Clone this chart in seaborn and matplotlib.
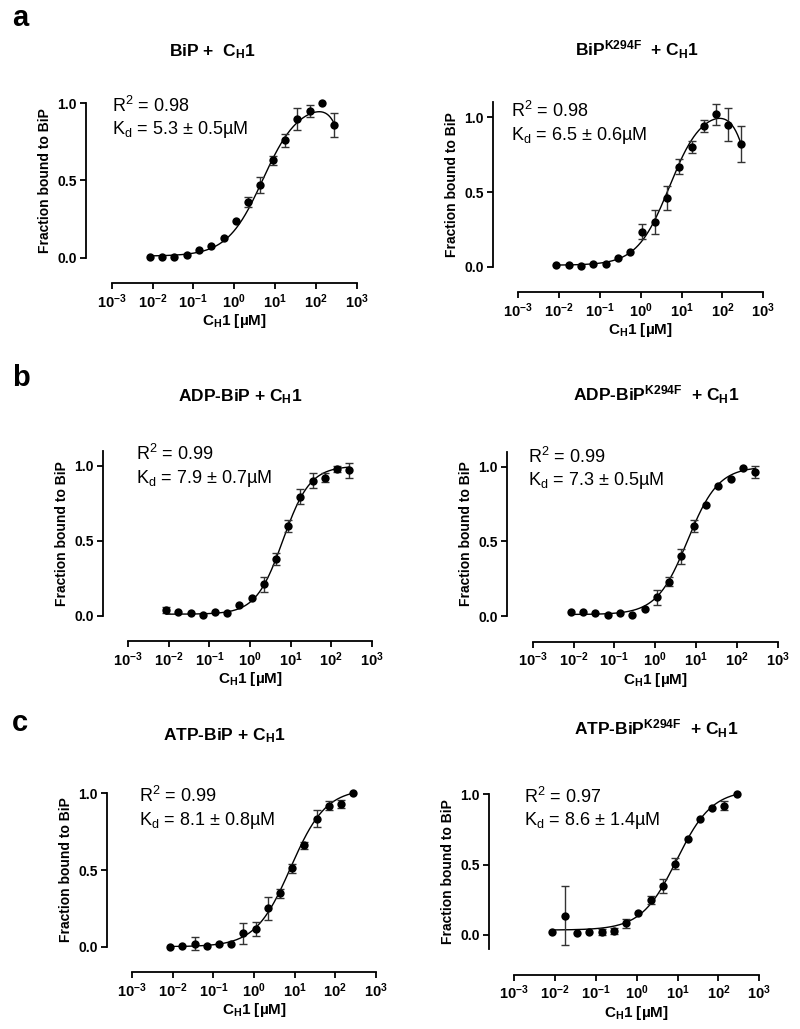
import numpy as np
import matplotlib
matplotlib.use("Agg")
import matplotlib.pyplot as plt
import matplotlib.transforms as mtransforms
import seaborn as sns

# Concentrations of CH1 (uM), 2-fold dilution series
conc = [0.00854, 0.0171, 0.0342, 0.0684, 0.137, 0.273, 0.547, 1.09,
        2.19, 4.38, 8.75, 17.5, 35.0, 70.0, 140.0, 280.0]

# Fraction bound (mean) and error per panel
a1_y = [0.006, 0.002, 0.006, 0.02, 0.048, 0.078, 0.13, 0.24, 0.36, 0.47, 0.63, 0.76, 0.90, 0.95, 1.00, 0.86]
a1_err = [0, 0, 0, 0, 0, 0, 0, 0, 0.03, 0.05, 0.03, 0.04, 0.07, 0.04, 0, 0.08]
a2_y = [0.01, 0.01, 0.005, 0.016, 0.02, 0.056, 0.10, 0.234, 0.30, 0.458, 0.67, 0.80, 0.94, 1.02, 0.95, 0.82]
a2_err = [0, 0, 0, 0, 0, 0, 0, 0.05, 0.08, 0.08, 0.05, 0.04, 0.04, 0.07, 0.11, 0.12]
b1_y = [0.038, 0.027, 0.016, 0.004, 0.024, 0.016, 0.07, 0.116, 0.21, 0.38, 0.60, 0.795, 0.90, 0.92, 0.98, 0.97]
b1_err = [0.02, 0, 0, 0, 0, 0, 0, 0, 0.05, 0.04, 0.04, 0.05, 0.05, 0.03, 0.02, 0.05]
b2_y = [0.029, 0.025, 0.018, 0.009, 0.02, 0.004, 0.045, 0.125, 0.23, 0.40, 0.60, 0.74, 0.87, 0.915, 0.99, 0.965]
b2_err = [0, 0, 0, 0, 0, 0, 0, 0.05, 0.03, 0.05, 0.04, 0, 0, 0, 0, 0.04]
c1_y = [0.0, 0.002, 0.02, 0.006, 0.017, 0.02, 0.087, 0.115, 0.25, 0.348, 0.51, 0.66, 0.833, 0.92, 0.93, 1.0]
c1_err = [0, 0, 0.04, 0, 0, 0, 0.07, 0.045, 0.075, 0.03, 0.03, 0.02, 0.055, 0.03, 0.025, 0]
c2_y = [0.02, 0.137, 0.012, 0.019, 0.021, 0.03, 0.083, 0.154, 0.25, 0.345, 0.506, 0.683, 0.82, 0.90, 0.917, 1.0]
c2_err = [0, 0.21, 0, 0, 0.02, 0.02, 0.03, 0, 0.03, 0.05, 0.04, 0, 0, 0, 0.03, 0]

# Fit parameters: bottom, top, EC50, hill, hook K, hook slope
a1_fit = [0.01, 1.0, 5.0, 1.0, 633, 2.5]
a2_fit = [0.01, 1.06, 5.0, 1.1, 532, 2.07]
b1_fit = [0.01, 1.0, 6.5, 1.3, None, None]
b2_fit = [0.01, 1.0, 6.2, 1.15, None, None]
c1_fit = [0.0, 1.03, 8.0, 1.0, None, None]
c2_fit = [0.035, 1.03, 9.5, 1.0, None, None]

titles = [r"BiP +  C$_\mathbf{H}$1", r"BiP$^\mathbf{K294F}$  + C$_\mathbf{H}$1",
          r"ADP-BiP + C$_\mathbf{H}$1", r"ADP-BiP$^\mathbf{K294F}$  + C$_\mathbf{H}$1",
          r"ATP-BiP + C$_\mathbf{H}$1", r"ATP-BiP$^\mathbf{K294F}$  + C$_\mathbf{H}$1"]
r2_labels = ["0.98", "0.98", "0.99", "0.99", "0.99", "0.97"]
kd_labels = ["5.3 ± 0.5", "6.5 ± 0.6", "7.9 ± 0.7", "7.3 ± 0.5", "8.1 ± 0.8", "8.6 ± 1.4"]
xtick_vals = [1e-3, 1e-2, 1e-1, 1e0, 1e1, 1e2, 1e3]
xtick_labels = [r"$\mathbf{10^{-3}}$", r"$\mathbf{10^{-2}}$", r"$\mathbf{10^{-1}}$", r"$\mathbf{10^{0}}$",
                r"$\mathbf{10^{1}}$", r"$\mathbf{10^{2}}$", r"$\mathbf{10^{3}}$"]
ytick_vals = [0.0, 0.5, 1.0]
ytick_labels = ["0.0", "0.5", "1.0"]

sns.set_theme(style="ticks")
plt.rcParams['font.family'] = ['Liberation Sans', 'DejaVu Sans']
plt.rcParams['mathtext.fontset'] = 'custom'
plt.rcParams['mathtext.rm'] = 'Liberation Sans'
plt.rcParams['mathtext.bf'] = 'Liberation Sans:bold'
plt.rcParams['mathtext.it'] = 'Liberation Sans:italic'
plt.rcParams['text.color'] = 'black'
plt.rcParams['axes.labelcolor'] = 'black'
plt.rcParams['xtick.color'] = 'black'
plt.rcParams['ytick.color'] = 'black'

W, H = 800, 1029
fig = plt.figure(figsize=(W / 100, H / 100), dpi=100)
fig.patch.set_facecolor('white')


def fit_curve(x, p):
    bottom, top, ec50, hill, hk, hh = p
    y = bottom + (top - bottom) * x ** hill / (ec50 ** hill + x ** hill)
    if hk is not None:
        y = y / (1 + (x / hk) ** hh)
    return y


# pixel layout: x0, x1 (data area), y of ylim top, y of ylim bottom, ylim
panels = [
    (111.7, 356.7, 103.3, 257.7, (0.0, 1.0), a1_y, a1_err, a1_fit, (0.0, 0.946, 0.80)),
    (518.3, 763.3, 102.4, 266.7, (0.0, 1.1), a2_y, a2_err, a2_fit, (-0.03, 1.004, 0.848)),
    (128.3, 371.7, 451.0, 615.7, (0.0, 1.1), b1_y, b1_err, b1_fit, (0.031, 1.04, 0.884)),
    (532.7, 777.7, 451.7, 616.0, (0.0, 1.1), b2_y, b2_err, b2_fit, (-0.018, 1.027, 0.877)),
    (132.3, 375.7, 793.3, 946.7, (0.0, 1.0), c1_y, c1_err, c1_fit, (0.029, 0.945, 0.793)),
    (514.3, 759.3, 794.0, 949.1, (-0.1, 1.0), c2_y, c2_err, c2_fit, (0.04, 0.938, 0.78)),
]
title_pos = [(212, 52), (637, 50), (240, 397), (656, 395), (224, 736), (656, 729)]

xs = np.logspace(np.log10(conc[0]), np.log10(conc[-1]), 300)
conc_arr = np.array(conc)

for i, (x0, x1, yt, yb, ylim, yv, ev, fp, tpos) in enumerate(panels):
    ax = fig.add_axes([x0 / W, 1 - yb / H, (x1 - x0) / W, (yb - yt) / H])
    ax.set_facecolor('none')
    ax.set_xscale('log')
    ax.set_xlim(1e-3, 1e3)
    ax.set_ylim(*ylim)

    sns.lineplot(x=xs, y=fit_curve(xs, fp), ax=ax, color='black', linewidth=1.0)
    yv = np.array(yv)
    ev = np.array(ev)
    m = ev > 0
    ax.errorbar(conc_arr[m], yv[m], yerr=ev[m], fmt='none', ecolor='#333333',
                elinewidth=1.0, capsize=3, capthick=1.0, zorder=2, clip_on=False)
    sns.scatterplot(x=conc_arr, y=yv, ax=ax, color='black', s=36, edgecolor='black',
                    linewidth=0, zorder=3, clip_on=False)

    for side in ['top', 'right']:
        ax.spines[side].set_visible(False)
    ax.spines['left'].set_position(('outward', 18.5))
    ax.spines['bottom'].set_position(('outward', 18.5))
    for side in ['left', 'bottom']:
        ax.spines[side].set_linewidth(1.3)
        ax.spines[side].set_color('black')

    ax.set_xticks(xtick_vals)
    ax.set_xticklabels(xtick_labels, fontsize=10.5)
    ax.xaxis.set_minor_locator(matplotlib.ticker.NullLocator())
    ax.set_yticks(ytick_vals)
    ax.set_yticklabels(ytick_labels, fontsize=10, fontweight='bold')
    ax.tick_params(axis='both', length=4.5, width=1.3, color='black', pad=2, labelcolor='black')

    ax.set_xlabel(r"C$_\mathbf{H}$1 [µM]", fontsize=11, fontweight='bold', labelpad=1)
    ax.set_ylabel("Fraction bound to BiP", fontsize=10, fontweight='bold', labelpad=4)

    trans = mtransforms.blended_transform_factory(ax.transAxes, ax.transData)
    ax.text(tpos[0], tpos[1], r"R$^\mathregular{2}$ = " + r2_labels[i], transform=trans,
            fontsize=13, va='baseline', ha='left')
    ax.text(tpos[0], tpos[2], r"K$_\mathregular{d}$ = " + kd_labels[i] + "µM", transform=trans,
            fontsize=13, va='baseline', ha='left')

    tx, ty = title_pos[i]
    fig.text(tx / W, 1 - ty / H, titles[i], fontsize=12.5, fontweight='bold',
             ha='center', va='center')

for letter, (lx, ly) in zip(["a", "b", "c"], [(12, 26), (12, 386), (12, 731)]):
    fig.text(lx / W, 1 - ly / H, letter, fontsize=21, fontweight='bold', ha='left', va='baseline')

fig.savefig("out.png", dpi=100, facecolor='white')
